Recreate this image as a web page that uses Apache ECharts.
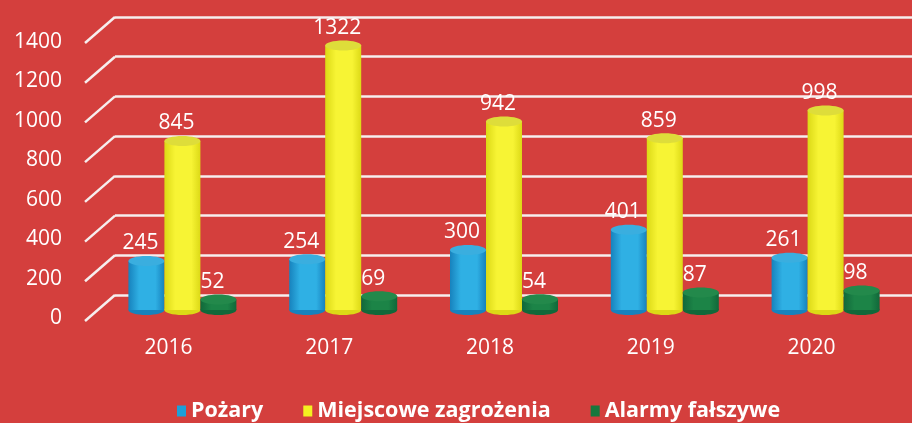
<!DOCTYPE html>
<html>
<head>
<meta charset="utf-8">
<script src="https://cdn.jsdelivr.net/npm/echarts@6/dist/echarts.min.js"></script>
<style>
  html, body { margin: 0; padding: 0; background: #d43f3d; }
  #chart { width: 912px; height: 423px; }
</style>
</head>
<body>
<div id="chart"></div>
<script>
var years = ['2016', '2017', '2018', '2019', '2020']
var pozary = [245, 254, 300, 401, 261]
var zagrozenia = [845, 1322, 942, 859, 998]
var alarmy = [52, 69, 54, 87, 98]
var ticks = [0, 200, 400, 600, 800, 1000, 1200, 1400]

var font = '"Open Sans", "Noto Sans", sans-serif'

// kolory walca: krawedz, srodek, gora
var blue = ['#1782bd', '#2fb0e4', '#3aaedf']
var yellow = ['#dcd916', '#f7f434', '#dedd3a']
var green = ['#11683a', '#1c8447', '#23894b']

function pairs(arr) {
  return arr.map(function (v, i) { return [i, v] })
}

// walec rysowany przez skale osi (api.coord)
function cylinder(slot, col) {
  return function (params, api) {
    var w = 36
    var ry = 5
    var base = api.coord([api.value(0), 0])
    var top = api.coord([api.value(0), api.value(1)])
    var cx = base[0] + slot * w
    var grad = new echarts.graphic.LinearGradient(0, 0, 1, 0, [
      { offset: 0, color: col[0] },
      { offset: 0.3, color: col[1] },
      { offset: 0.75, color: col[1] },
      { offset: 1, color: col[0] }
    ])
    return {
      type: 'group',
      children: [
        { type: 'ellipse', shape: { cx: cx, cy: base[1], rx: w / 2, ry: ry }, style: { fill: col[0] } },
        { type: 'rect', shape: { x: cx - w / 2, y: top[1], width: w, height: base[1] - top[1] }, style: { fill: grad } },
        { type: 'ellipse', shape: { cx: cx, cy: top[1], rx: w / 2, ry: ry }, style: { fill: col[2] } },
        {
          type: 'text',
          style: {
            text: String(api.value(1)), x: cx - 6, y: top[1] - ry - 2,
            align: 'center', verticalAlign: 'bottom',
            fill: '#ffffff', fontSize: 21, fontFamily: font
          }
        }
      ]
    }
  }
}

var chart = echarts.init(document.getElementById('chart'))

var option = {
  backgroundColor: '#d43f3d',
  animation: false,
  legend: {
    left: 172,
    top: 395,
    icon: 'rect',
    itemWidth: 9,
    itemHeight: 11,
    itemGap: 40,
    textStyle: { color: '#ffffff', fontSize: 21.5, fontWeight: 'bold', fontFamily: font },
    data: ['Pożary', 'Miejscowe zagrożenia', 'Alarmy fałszywe']
  },
  grid: [
    // tylna sciana z liniami
    { left: 115, right: 0, top: 17, bottom: 128 },
    // etykiety osi z przodu
    { left: 70, width: 10, top: 42, bottom: 105 },
    // walce
    { left: 102, right: 6, top: 30, bottom: 113 }
  ],
  xAxis: [
    { gridIndex: 0, type: 'category', data: years, show: false },
    { gridIndex: 1, type: 'category', data: years, show: false },
    {
      gridIndex: 2, type: 'category', data: years,
      axisLine: { show: false }, axisTick: { show: false },
      axisLabel: { color: '#ffffff', fontSize: 21, fontFamily: font, margin: 28, padding: [0, 28, 0, 0] }
    }
  ],
  yAxis: [
    {
      gridIndex: 0, type: 'value', min: 0, max: 1400, interval: 200,
      axisLine: { show: false }, axisTick: { show: false }, axisLabel: { show: false },
      splitLine: { lineStyle: { color: '#f6eeee', width: 2.5 } }
    },
    {
      gridIndex: 1, type: 'value', min: 0, max: 1400, interval: 200,
      axisLine: { show: false }, axisTick: { show: false }, splitLine: { show: false },
      axisLabel: {
        color: '#ffffff', fontSize: 21, fontFamily: font, margin: 8,
        formatter: function (v) { return String(v) }
      }
    },
    { gridIndex: 2, type: 'value', min: 0, max: 1400, show: false }
  ],
  series: [
    {
      // ukosne linie podlogi
      type: 'custom',
      xAxisIndex: 0,
      yAxisIndex: 0,
      silent: true,
      data: ticks.map(function (t) { return [0, t] }),
      renderItem: function (params, api) {
        var y = api.coord([0, api.value(1)])[1]
        var x = params.coordSys.x
        return {
          type: 'line',
          shape: { x1: x - 30, y1: y + 26, x2: x, y2: y },
          style: { stroke: '#f6eeee', lineWidth: 2.5 }
        }
      }
    },
    {
      name: 'Pożary', type: 'custom', xAxisIndex: 2, yAxisIndex: 2,
      itemStyle: { color: '#1e9fd8' },
      data: pairs(pozary), renderItem: cylinder(-1, blue)
    },
    {
      name: 'Miejscowe zagrożenia', type: 'custom', xAxisIndex: 2, yAxisIndex: 2,
      itemStyle: { color: '#f4f020' },
      data: pairs(zagrozenia), renderItem: cylinder(0, yellow)
    },
    {
      name: 'Alarmy fałszywe', type: 'custom', xAxisIndex: 2, yAxisIndex: 2,
      itemStyle: { color: '#17773d' },
      data: pairs(alarmy), renderItem: cylinder(1, green)
    }
  ]
}

chart.setOption(option)
</script>
</body>
</html>
